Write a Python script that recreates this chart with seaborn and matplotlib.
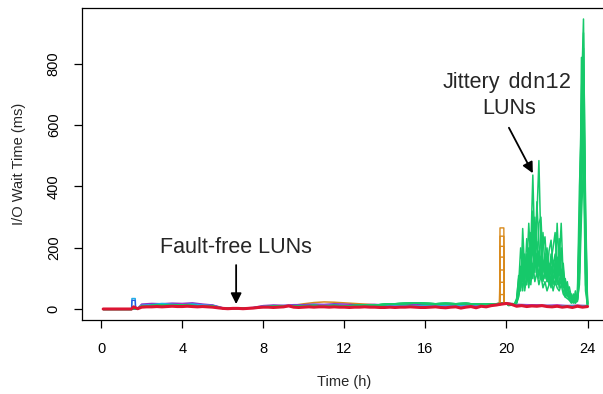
import numpy as np
import pandas as pd
import matplotlib
matplotlib.use("Agg")
import matplotlib.pyplot as plt
import seaborn as sns

# ---------------- data ----------------
# common coarse time grid for the fault-free period (hours)
t_day = [0.1, 0.5, 1.0, 1.5, 1.6, 1.8, 2.0, 2.5, 3.0, 3.5, 4.0, 4.5, 5.0, 5.5,
         6.0, 6.5, 7.0, 7.5, 8.0, 8.5, 9.0, 9.5, 10.0, 10.5, 11.0, 11.5, 12.0,
         12.5, 13.0, 13.5, 14.0, 14.5, 15.0, 15.5, 16.0, 16.5, 17.0, 17.5,
         18.0, 18.5, 19.0, 19.5, 20.0, 20.5, 21.0, 21.5, 22.0, 22.5, 23.0,
         23.5, 24.0]

blue_lun = [0, 0, 0, 0, 3, 2, 14, 16, 15, 17, 16, 18, 15, 13, 4, 3, 4, 5,
            10, 12, 11, 13, 12, 14, 13, 15, 14, 12, 13, 14, 12, 13, 12, 14,
            13, 12, 11, 12, 13, 10, 12, 16, 18, 14, 12, 13, 11, 12, 10, 12, 11]
purple_lun = [1, 1, 1, 1, 4, 3, 17, 19, 18, 20, 19, 21, 17, 14, 5, 4, 4, 6,
              12, 14, 13, 15, 15, 17, 16, 18, 17, 15, 15, 16, 14, 15, 14, 16,
              15, 14, 13, 14, 15, 12, 14, 18, 21, 16, 15, 14, 13, 14, 12, 13, 12]
magenta_lun = [0, 0, 0, 0, 2, 2, 12, 13, 15, 14, 16, 14, 13, 11, 3, 3, 3, 4,
               9, 10, 9, 11, 11, 12, 13, 12, 13, 11, 11, 12, 11, 12, 11, 12,
               11, 11, 10, 11, 12, 9, 11, 15, 17, 12, 13, 12, 11, 13, 11, 12, 10]
cyan_lun = [0, 0, 0, 0, 5, 3, 13, 15, 19, 16, 14, 17, 14, 12, 4, 3, 3, 5,
            10, 11, 12, 12, 12, 13, 12, 13, 12, 11, 12, 13, 12, 11, 12, 11,
            12, 13, 11, 12, 11, 10, 13, 16, 18, 13, 12, 11, 12, 11, 12, 11, 12]
orange_lun = [0, 0, 0, 0, 2, 2, 11, 12, 13, 14, 13, 12, 12, 10, 3, 3, 3, 4,
              9, 10, 11, 13, 18, 22, 24, 23, 21, 19, 17, 15, 13, 12, 12, 13,
              12, 12, 11, 12, 11, 10, 12, 15, 17, 13, 12, 12, 11, 12, 11, 12, 11]

# ddn12 LUNs: quiet part (t_day up to 20.0), then jittery part on t_jit
green_quiet = [0, 0, 0, 0, 2, 2, 10, 12, 13, 12, 14, 12, 11, 10, 3, 3, 3, 4,
               8, 9, 10, 11, 11, 12, 11, 12, 11, 12, 13, 14, 16, 18, 19, 20,
               19, 18, 19, 18, 19, 17, 16, 18, 20]
t_jit = [20.1, 20.2, 20.3, 20.4, 20.5, 20.6, 20.7, 20.8, 20.9, 21.0, 21.1,
         21.2, 21.3, 21.4, 21.5, 21.6, 21.7, 21.8, 21.9, 22.0, 22.1, 22.2,
         22.3, 22.4, 22.5, 22.6, 22.7, 22.8, 22.9, 23.0, 23.1, 23.2, 23.3,
         23.4, 23.5, 23.6, 23.7, 23.8, 23.9, 24.0]
jit_1 = [14, 15, 18, 16, 22, 60, 140, 90, 150, 110, 200, 120, 250, 160, 300,
         484, 200, 130, 180, 90, 150, 110, 80, 160, 120, 70, 130, 60, 40, 55,
         30, 25, 35, 20, 40, 300, 700, 945, 300, 15]
jit_2 = [13, 16, 15, 17, 30, 110, 60, 263, 120, 180, 90, 200, 437, 180, 220,
         140, 260, 120, 160, 200, 110, 140, 90, 120, 170, 100, 80, 110, 60, 40,
         50, 30, 25, 40, 30, 150, 820, 700, 200, 18]
jit_3 = [15, 14, 17, 18, 25, 80, 200, 130, 90, 230, 140, 250, 180, 300, 200,
         160, 120, 250, 140, 110, 190, 225, 130, 100, 280, 130, 90, 150, 70, 90,
         45, 50, 30, 25, 50, 400, 600, 850, 120, 16]
jit_4 = [12, 13, 16, 15, 20, 40, 90, 180, 60, 120, 280, 150, 200, 120, 350,
         210, 150, 200, 236, 130, 80, 160, 200, 250, 110, 230, 120, 80, 100, 60,
         73, 40, 20, 60, 25, 100, 500, 780, 250, 14]
jit_5 = [16, 15, 14, 19, 35, 100, 70, 120, 180, 80, 160, 100, 140, 250, 130,
         280, 300, 150, 100, 170, 130, 90, 140, 180, 90, 150, 280, 100, 50, 80,
         35, 45, 40, 30, 35, 250, 450, 650, 80, 20]
jit_6 = [14, 17, 16, 14, 28, 70, 120, 60, 140, 100, 120, 180, 100, 160, 110,
         190, 100, 160, 120, 90, 120, 180, 100, 80, 150, 110, 200, 70, 90, 45,
         60, 25, 50, 35, 45, 120, 380, 560, 150, 17]
jit_7 = [15, 16, 19, 17, 24, 50, 100, 200, 100, 150, 70, 130, 320, 140, 180,
         100, 170, 90, 130, 150, 100, 70, 160, 130, 80, 180, 100, 130, 50, 70,
         40, 35, 30, 45, 30, 200, 650, 900, 350, 15]
jit_8 = [13, 14, 15, 16, 20, 45, 80, 110, 70, 90, 110, 80, 150, 90, 120, 80,
         110, 70, 90, 60, 80, 100, 60, 90, 70, 60, 80, 50, 40, 35, 30, 20, 25,
         20, 30, 80, 300, 480, 60, 12]
jittery = [jit_1, jit_2, jit_3, jit_4, jit_5, jit_6, jit_7, jit_8]

# thick red LUN with its own finer grid
t_red = [0.1, 0.5, 1.0, 1.5, 1.6, 1.7, 1.8] + list(np.arange(2.0, 24.01, 0.25))
red_lun = [1, 1, 1, 1, 8, 5, 2,
           7, 8, 8, 9, 8, 9, 10, 9, 9, 10, 9, 8, 9, 8, 7, 5,          # 2.0-5.75
           3, 2, 3, 3, 2, 3, 4, 6, 7, 7, 6, 7, 8, 11, 7, 6,           # 6.0-9.75
           7, 8, 7, 8, 8, 7, 8, 7, 7, 6, 7, 7, 8, 7, 7, 6,            # 10.0-13.75
           6, 7, 6, 7, 7, 8, 7, 6, 6, 7, 8, 6, 5, 7, 8, 4,            # 14.0-17.75
           7, 9, 5, 10, 8, 12, 14, 17, 19, 16, 10, 12, 9, 11, 10, 12,  # 18.0-21.75
           9, 8, 10, 7, 9, 6, 10, 7, 9]                               # 22.0-24.0

# short spikes
cyan_spike_t = [1.50, 1.52, 1.68, 1.70]
cyan_spike = [0, 35, 35, 3]
blue_spike = [0, 29, 29, 3]
orange_spike_t = [19.66, 19.68, 19.87, 19.89]
orange_levels = [265, 238, 205, 170, 128, 88, 48]

# ---------------- styling ----------------
sns.set_theme(style="white")
plt.rcParams['font.family'] = ['Liberation Sans', 'DejaVu Sans']

C_RED = "#DC1432"
C_GREEN = "#16C96A"
C_ORANGE = "#D98A1C"
C_BLUE = "#2A55E0"
C_PURPLE = "#8A35C8"
C_MAGENTA = "#E040D0"
C_CYAN = "#22AEE8"

fig = plt.figure(figsize=(6.03, 3.94), dpi=100)
ax = fig.add_axes([81.7 / 603, 74 / 394, (607 - 81.7) / 603, (320 - 8.3) / 394])

def draw(x, y, color, lw):
    sns.lineplot(x=x, y=y, color=color, lw=lw, ax=ax, estimator=None,
                 sort=False, legend=False)

# fault-free LUNs
for vals, col in [(orange_lun, C_ORANGE), (blue_lun, C_BLUE),
                  (purple_lun, C_PURPLE), (magenta_lun, C_MAGENTA),
                  (cyan_lun, C_CYAN)]:
    draw(t_day, vals, col, 1.1)

# ddn12 LUNs
for jit in jittery:
    draw(t_day[:len(green_quiet)] + t_jit, green_quiet + jit, C_GREEN, 1.1)

# spikes
for lvl in orange_levels:
    draw(orange_spike_t, [14, lvl, lvl, 16], C_ORANGE, 1.0)
draw(cyan_spike_t, cyan_spike, C_CYAN, 1.1)
draw(cyan_spike_t, blue_spike, C_BLUE, 0.9)

# thick red LUN on top
draw(t_red, red_lun, C_RED, 2.2)

ax.set_xlim(-0.96, 24.96)
ax.set_ylim(-34.8, 979.8)
ax.set_xticks([0, 4, 8, 12, 16, 20, 24])
ax.set_yticks([0, 200, 400, 600, 800])
ax.set_xlabel("")
ax.set_ylabel("")
for s in ax.spines.values():
    s.set_color("black")
    s.set_linewidth(0.9)
ax.tick_params(axis="both", direction="out", length=5.5, width=0.9,
               color="black", labelsize=10.5, labelcolor="black")
ax.tick_params(axis="x", pad=10, bottom=True)
ax.tick_params(axis="y", pad=9.5, left=True, labelrotation=90)
for lab in ax.get_yticklabels():
    lab.set_verticalalignment("center")

fig.text(344 / 603, 1 - 382 / 394, "Time (h)", ha="center", va="center",
         fontsize=10.5)
fig.text(19 / 603, 1 - 164 / 394, "I/O Wait Time (ms)", ha="center",
         va="center", rotation=90, fontsize=10.5)

# annotations
ax.text(6.66, 202, "Fault-free LUNs", ha="center", va="center", fontsize=15.5)
ax.annotate("", xy=(6.66, 17), xytext=(6.66, 144),
            arrowprops=dict(arrowstyle="-|>", color="black", lw=1.3,
                            mutation_scale=16, shrinkA=0, shrinkB=0))
ax.text(19.67, 720, "Jittery", ha="right", va="baseline", fontsize=15.5)
ax.text(20.05, 720, "ddn12", ha="left", va="baseline", fontsize=15.5,
        family=["Liberation Mono", "DejaVu Sans Mono"])
ax.text(20.12, 653, "LUNs", ha="center", va="center", fontsize=15.5)
ax.annotate("", xy=(21.30, 443), xytext=(20.12, 591),
            arrowprops=dict(arrowstyle="-|>", color="black", lw=1.3,
                            mutation_scale=16, shrinkA=0, shrinkB=0))

fig.savefig("out.png", dpi=100)
